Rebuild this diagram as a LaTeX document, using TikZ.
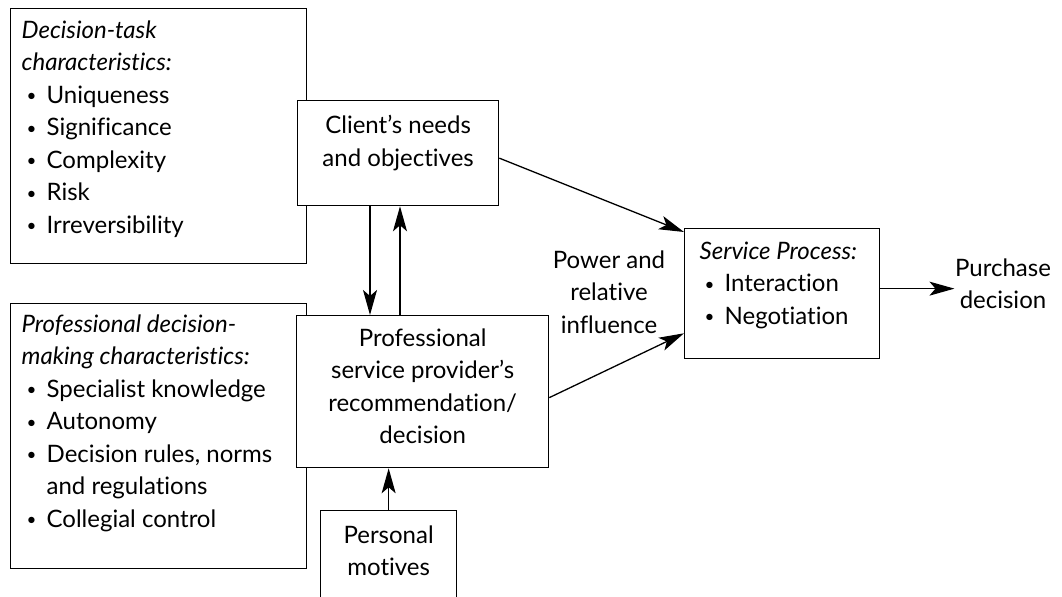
\documentclass[tikz,border=0pt]{standalone}
\usepackage{fontspec}
\setmainfont{Lato}[Ligatures=NoCommon]
\usetikzlibrary{arrows.meta, calc}

% small bullet with a fixed hanging indent
\newcommand{\bul}{\makebox[12.5pt][l]{\hspace{2.5pt}\raisebox{0.8pt}{\fontsize{8.5}{8.5}\selectfont\textbullet}}}

\begin{document}
\begin{tikzpicture}[
        x=0.5pt, y=-0.5pt,
        font=\fontsize{12}{16.25}\selectfont,
        >={Stealth[length=12.5pt, width=7pt, inset=3pt]},
        line width=0.65pt,
        box/.style={draw, fill=white, inner sep=0pt, anchor=north west},
        txt/.style={inner sep=0pt, align=center, anchor=north},
        list/.style={inner sep=0pt, align=left, anchor=north west}
    ]

    \useasboundingbox (0,0) rectangle (1062,597);

    % --- Left column: characteristics ---
    \node[box, minimum width=148pt, minimum height=127.5pt] (task) at (10,8) {};
    \node[list] (tasktxt) at (21,20) {\textit{Decision-task}\\
        \textit{characteristics:}\\
        \bul Uniqueness\\
        \bul Significance\\
        \bul Complexity\\
        \bul Risk\\
        \bul Irreversibility};

    \node[box, minimum width=148pt, minimum height=132.5pt] (prof) at (10,303) {};
    \node[list] (proftxt) at (21,314) {\textit{Professional decision-}\\
        \textit{making characteristics:}\\
        \bul Specialist knowledge\\
        \bul Autonomy\\
        \bul Decision rules, norms\\
        \hspace{12.5pt}and regulations\\
        \bul Collegial control};

    % --- Middle column ---
    \node[box, minimum width=100.5pt, minimum height=52.5pt] (client) at (297,100) {};
    \node[txt] (clienttxt) at ([yshift=-7.5pt]client.north) {Client's needs\\and objectives};

    \node[box, minimum width=126pt, minimum height=76pt] (provider) at (296,315) {};
    \node[txt] (providertxt) at ([yshift=-6.5pt]provider.north) {Professional\\
        service provider's\\recommendation/\\decision};

    \node[box, minimum width=68pt, minimum height=46pt] (personal) at (320,510) {};
    \node[txt] (personaltxt) at ([yshift=-7.5pt]personal.north) {Personal\\motives};

    % --- Right column ---
    \node[box, minimum width=97.5pt, minimum height=65pt] (service) at (684,228) {};
    \node[list] (servicetxt) at ([xshift=7.5pt, yshift=-6.5pt]service.north west) {\textit{Service Process:}\\
        \bul Interaction\\
        \bul Negotiation};

    \node[txt] (power) at (609,250) {Power and\\relative\\influence};
    \node[txt] (purchase) at (1003,258) {Purchase\\decision};

    % --- Connectors ---
    \coordinate (dn) at (370,0);
    \coordinate (up) at (400,0);
    \draw[->] (client.south -| dn) -- (provider.north -| dn);
    \draw[->] (provider.north -| up) -- (client.south -| up);
    \draw[->] (personal.north) -- (personal.north |- provider.south);

    \draw[->] ([yshift=-2.5pt]client.east) -- ([yshift=-2pt]service.north west);
    \draw[->] ([yshift=-3pt]provider.east) -- ([yshift=13pt]service.south west);
    \draw[->] ([yshift=2.5pt]service.east) -- ([yshift=2.5pt]service.east -| purchase.west);

\end{tikzpicture}
\end{document}
